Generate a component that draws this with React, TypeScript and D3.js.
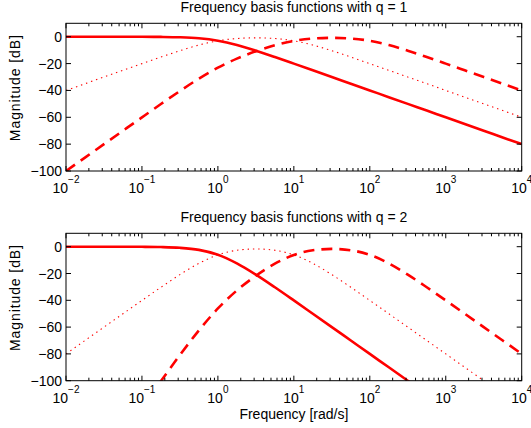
import React from 'react';
import * as d3 from 'd3';

const W = 531;
const H = 428;

// frequencies (rad/s), quarter-decade samples
const freq = [0.01, 0.01778, 0.03162, 0.05623, 0.1, 0.1778, 0.3162, 0.5623, 1, 1.778, 3.162, 5.623, 10, 17.78, 31.62, 56.23, 100, 177.8, 316.2, 562.3, 1000, 1778, 3162, 5623, 10000];

// q = 1 magnitudes (dB)
const solidQ1 = [0, 0, 0, -0.01, -0.04, -0.13, -0.41, -1.19, -3.01, -6.19, -10.41, -15.13, -20.04, -25.01, -30, -35, -40, -45, -50, -55, -60, -65, -70, -75, -80];
const dottedQ1 = [-40, -35, -30, -25.01, -20.04, -15.14, -10.42, -6.21, -3.05, -1.33, -0.83, -1.33, -3.05, -6.21, -10.42, -15.14, -20.04, -25.01, -30, -35, -40, -45, -50, -55, -60];
const dashedQ1 = [-100, -90, -80, -70.01, -60.04, -50.14, -40.42, -31.21, -23.05, -16.33, -10.83, -6.34, -3.1, -1.34, -0.83, -1.33, -3.05, -6.21, -10.42, -15.14, -20.04, -25.01, -30, -35, -40];

// q = 2 magnitudes (dB)
const solidQ2 = [0, 0, 0, -0.03, -0.09, -0.27, -0.83, -2.39, -6.02, -12.39, -20.83, -30.27, -40.09, -50.03, -60, -70, -80, -90, -100, -110, -120, -130, -140, -150, -160];
const dottedQ2 = [-80, -70, -60, -50.02, -40.09, -30.28, -20.83, -12.42, -6.11, -2.66, -1.66, -2.66, -6.11, -12.42, -20.83, -30.28, -40.09, -50.02, -60, -70, -80, -90, -100, -110, -120];
const dashedQ2 = [-200, -180, -160, -140.02, -120.08, -100.28, -80.84, -62.42, -46.1, -32.66, -21.66, -12.68, -6.2, -2.68, -1.66, -2.66, -6.1, -12.42, -20.84, -30.28, -40.08, -50.02, -60, -70, -80];

const xTickValues = [0.01, 0.1, 1, 10, 100, 1000, 10000];
const xTickExponents = ['\u22122', '\u22121', '0', '1', '2', '3', '4'];
const yTickValues = [-100, -80, -60, -40, -20, 0];
const yTickLabels = ['\u2212100', '\u221280', '\u221260', '\u221240', '\u221220', '0'];

const titles = ['Frequency basis functions with q = 1', 'Frequency basis functions with q = 2'];
const FONT = '"Liberation Sans", Arial, Helvetica, sans-serif';
const RED = '#ff0000';

const X0 = 66;
const X1 = 521.7;

type PanelProps = {
  id: string;
  top: number;
  bottom: number;
  title: string;
  solid: number[];
  dotted: number[];
  dashed: number[];
  showXLabel: boolean;
};

function Panel({ id, top, bottom, title, solid, dotted, dashed, showXLabel }: PanelProps) {
  const x = d3.scaleLog().domain([0.01, 10000]).range([X0, X1]);
  const y = d3.scaleLinear().domain([-100, 10]).range([bottom, top]);
  const line = d3
    .line<number>()
    .x((_, i) => x(freq[i]))
    .y((d) => y(d))
    .curve(d3.curveMonotoneX);

  const minor: number[] = [];
  for (let e = -2; e < 4; e++) {
    for (let k = 2; k <= 9; k++) minor.push(k * Math.pow(10, e));
  }
  const majorLen = 5;
  const minorLen = 3;
  const cx = (X0 + X1) / 2;

  return (
    <g>
      <defs>
        <clipPath id={id}>
          <rect x={X0} y={top} width={X1 - X0} height={bottom - top} />
        </clipPath>
      </defs>
      <rect x={X0} y={top} width={X1 - X0} height={bottom - top} fill="#fff" />
      <g clipPath={`url(#${id})`} fill="none" stroke={RED}>
        <path d={line(dotted) || ''} strokeWidth={1.1} strokeDasharray="1.4,3.9" />
        <path d={line(dashed) || ''} strokeWidth={2.6} strokeDasharray="11,7" />
        <path d={line(solid) || ''} strokeWidth={2.6} />
      </g>
      <g stroke="#000" strokeWidth={1} fill="none">
        {minor.map((m, i) => (
          <g key={'mn' + i}>
            <line x1={x(m)} x2={x(m)} y1={bottom} y2={bottom - minorLen} />
            <line x1={x(m)} x2={x(m)} y1={top} y2={top + minorLen} />
          </g>
        ))}
        {xTickValues.map((v, i) => (
          <g key={'mx' + i}>
            <line x1={x(v)} x2={x(v)} y1={bottom} y2={bottom - majorLen} />
            <line x1={x(v)} x2={x(v)} y1={top} y2={top + majorLen} />
          </g>
        ))}
        {yTickValues.map((v, i) => (
          <g key={'my' + i}>
            <line x1={X0} x2={X0 + majorLen} y1={y(v)} y2={y(v)} />
            <line x1={X1} x2={X1 - majorLen} y1={y(v)} y2={y(v)} />
          </g>
        ))}
        <rect x={X0} y={top} width={X1 - X0} height={bottom - top} />
      </g>
      <g fontFamily={FONT} fontSize={14} fill="#000">
        <text x={cx} y={top - 11} textAnchor="middle">
          {title}
        </text>
        {yTickValues.map((v, i) => (
          <text key={'yl' + i} x={X0 - 4} y={y(v)} dy="0.36em" textAnchor="end">
            {yTickLabels[i]}
          </text>
        ))}
        {xTickValues.map((v, i) => (
          <text key={'xl' + i} x={x(v)} y={bottom + 22} textAnchor="middle">
            <tspan>10</tspan>
            <tspan dy={-10} fontSize={10}>
              {xTickExponents[i]}
            </tspan>
          </text>
        ))}
        <text
          transform={`translate(20,${(top + bottom) / 2 - 9}) rotate(-90)`}
          textAnchor="middle"
          textLength={106}
          lengthAdjust="spacing"
        >
          Magnitude [dB]
        </text>
        {showXLabel && (
          <text x={cx} y={bottom + 38} textAnchor="middle">
            Frequency [rad/s]
          </text>
        )}
      </g>
    </g>
  );
}

export default function App() {
  return (
    <svg
      width={W}
      height={H}
      viewBox={`0 0 ${W} ${H}`}
      style={{ position: 'absolute', left: 0, top: 0, background: '#fff' }}
    >
      <rect x={0} y={0} width={W} height={H} fill="#fff" />
      <Panel id="clipA" top={23.3} bottom={171} title={titles[0]} solid={solidQ1} dotted={dottedQ1} dashed={dashedQ1} showXLabel={false} />
      <Panel id="clipB" top={233.3} bottom={380.7} title={titles[1]} solid={solidQ2} dotted={dottedQ2} dashed={dashedQ2} showXLabel={true} />
    </svg>
  );
}
